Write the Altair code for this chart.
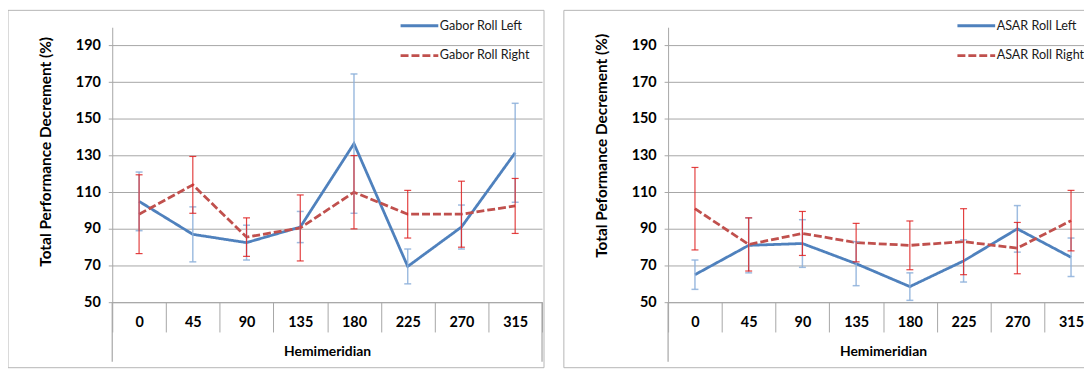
import altair as alt
import pandas as pd

# ---------------- data ----------------
hemis = ["0", "45", "90", "135", "180", "225", "270", "315"]

gabor_series = ["Gabor Roll Left", "Gabor Roll Right"]
gabor_left = [105, 87, 82.5, 91, 136.5, 69.5, 91, 131.5]
gabor_left_err = [16, 15, 9.5, 8.5, 38, 9.5, 12, 27]
gabor_right = [98, 114, 85.5, 90.5, 110, 98, 98, 102.5]
gabor_right_err = [21.5, 15.5, 10.5, 18, 20, 13, 18, 15]

asar_series = ["ASAR Roll Left", "ASAR Roll Right"]
asar_left = [65, 81, 82, 71, 58.5, 72.5, 90, 74.5]
asar_left_err = [8, 15, 13, 12, 7.5, 11.5, 12.7, 10.5]
asar_right = [101, 81.5, 87.5, 82.5, 81, 83, 79.5, 94.5]
asar_right_err = [22.5, 14.5, 12, 10.5, 13.3, 18, 14, 16.5]

y_ticks = [50, 70, 90, 110, 130, 150, 170, 190]

# ---------------- style ----------------
BLUE = "#4F81BD"
RED = "#C0504D"
BLUE_ERR = "#8DB0DA"
RED_ERR = "#DE2020"
GRID = "#A6A6A6"
FONT = "Lato"
W, H = 433, 277


def make_df(names, lv, le, rv, re):
    rows = []
    for name, vals, errs in ((names[0], lv, le), (names[1], rv, re)):
        for h, v, e in zip(hemis, vals, errs):
            rows.append({"h": h, "series": name, "v": v, "lo": v - e, "hi": v + e})
    return pd.DataFrame(rows)


def panel(df, names, ytitle, title_y, legend_x):
    xaxis = alt.Axis(
        title="Hemimeridian",
        labelAngle=0,
        tickBand="extent",
        tickSize=30,
        tickColor=GRID,
        domainColor=GRID,
        labelPadding=-17,
        labelFont=FONT,
        labelFontSize=14.5,
        labelFontWeight="bold",
        labelColor="#000000",
        titleFont=FONT,
        titleFontSize=14,
        titleFontWeight="bold",
        titleColor="#000000",
        titleY=50,
        titleBaseline="middle",
        grid=False,
    )
    xscale = alt.Scale(paddingInner=0, paddingOuter=0)
    yscale = alt.Scale(domain=[50, 200], nice=False, zero=False)
    yaxis = alt.Axis(
        values=y_ticks,
        title=ytitle,
        grid=True,
        gridColor=GRID,
        domainColor=GRID,
        tickColor=GRID,
        tickSize=4,
        labelPadding=8,
        labelOverlap=False,
        labelFont=FONT,
        labelFontSize=14.5,
        labelFontWeight="bold",
        labelColor="#000000",
        titleFont=FONT,
        titleFontSize=15.5,
        titleFontWeight="bold",
        titleColor="#000000",
        titleX=-67,
        titleY=title_y,
        titleBaseline="middle",
    )
    leg = alt.Legend(
        title=None,
        orient="none",
        legendX=legend_x,
        legendY=-22,
        symbolType="stroke",
        symbolSize=1444,
        symbolStrokeWidth=2.8,
        labelFont=FONT,
        labelFontSize=12.7,
        labelColor="#1a1a1a",
        labelOffset=0,
        rowPadding=2,
    )

    def X():
        return alt.X("h:N", sort=hemis, scale=xscale, axis=xaxis)

    def Y(field):
        return alt.Y(field, type="quantitative", scale=yscale, axis=yaxis)

    base = alt.Chart(df)
    one = pd.DataFrame({"a": [0]})
    frame = alt.Chart(one).mark_rect(
        fillOpacity=0, stroke="#B5B5B5", strokeWidth=1
    ).encode(x=alt.value(-105), x2=alt.value(435), y=alt.value(-17), y2=alt.value(343))
    ext_l = alt.Chart(one).mark_rule(color=GRID, strokeWidth=1.2).encode(
        x=alt.value(0), y=alt.value(H), y2=alt.value(H + 60)
    )
    ext_r = alt.Chart(one).mark_rule(color=GRID, strokeWidth=1.2).encode(
        x=alt.value(W), y=alt.value(H), y2=alt.value(H + 60)
    )

    line = base.mark_line(strokeWidth=2.8).encode(
        x=X(),
        y=Y("v"),
        color=alt.Color("series:N", sort=names,
                        scale=alt.Scale(domain=names, range=[BLUE, RED]), legend=leg),
        strokeDash=alt.StrokeDash("series:N", sort=names,
                                  scale=alt.Scale(domain=names, range=[[1, 0], [8, 3]]), legend=leg),
    )
    errs = []
    for name, col, sw in zip(names, [BLUE_ERR, RED_ERR], [1.5, 1.2]):
        sub = base.transform_filter(alt.datum.series == name)
        errs.append(sub.mark_rule(color=col, strokeWidth=sw, opacity=0.85).encode(
            x=X(), y=Y("lo"), y2="hi:Q"))
        errs.append(sub.mark_tick(color=col, size=7, thickness=sw, opacity=0.85).encode(
            x=X(), y=Y("lo")))
        errs.append(sub.mark_tick(color=col, size=7, thickness=sw, opacity=0.85).encode(
            x=X(), y=Y("hi")))
    return alt.layer(frame, ext_l, ext_r, line, *errs).properties(width=W, height=H)


left = panel(make_df(gabor_series, gabor_left, gabor_left_err, gabor_right, gabor_right_err),
             gabor_series, "Total Performance Decrement (%)", 125, 289)
right = panel(make_df(asar_series, asar_left, asar_left_err, asar_right, asar_right_err),
              asar_series, "Total Peformance Decrement (%)", 119, 290)

chart = (
    alt.hconcat(left, right, spacing=18)
    .resolve_scale(color="independent", strokeDash="independent", x="independent", y="independent")
    .resolve_legend(color="independent", strokeDash="independent")
    .properties(
        autosize=alt.AutoSizeParams(type="none"),
        padding={"left": 105, "top": 17, "right": 979, "bottom": 344},
        background="white",
    )
    .configure_view(stroke=None)
)

chart.save("out.html", embed_options={"renderer": "svg", "actions": False})
